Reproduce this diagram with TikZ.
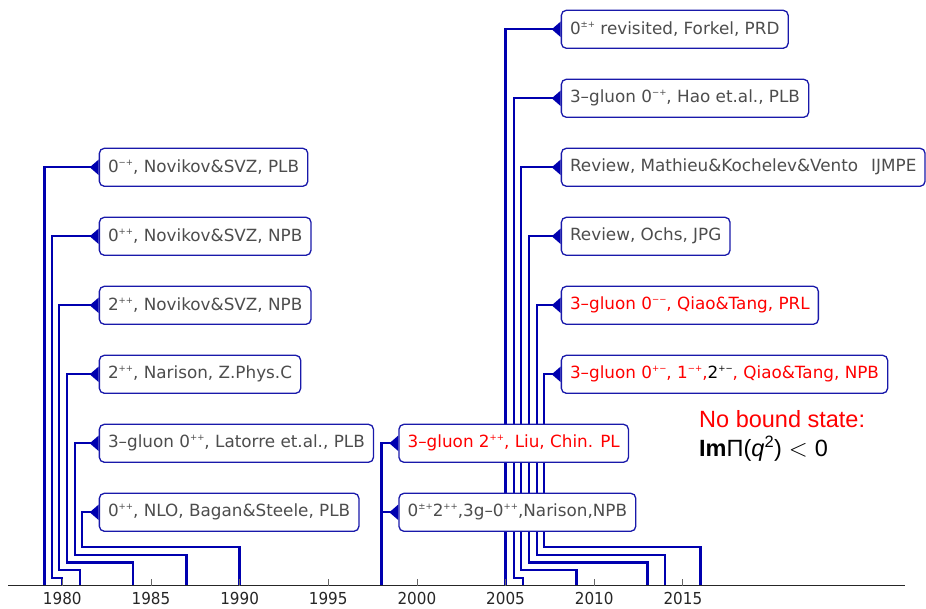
\documentclass[tikz,border=0pt]{standalone}
\usepackage{fontspec}
\setmainfont{DejaVu Sans}
\newfontfamily\arialfont{Liberation Sans}
\newfontfamily\tickfont[FakeStretch=0.92]{DejaVu Sans}
\usetikzlibrary{arrows.meta,backgrounds}
\definecolor{linkblue}{RGB}{0,0,175}
\definecolor{boxblue}{RGB}{25,25,170}
\definecolor{labelgray}{RGB}{77,77,77}
\newcommand\pc[1]{\raisebox{0.42em}{\fontsize{8.6}{9}\selectfont #1}}

\begin{document}
\begin{tikzpicture}[
    x=1pt, y=1pt,
    paper/.style={draw=boxblue, line width=1.3pt, fill=white, rounded corners=5pt,
        anchor=west, minimum height=38pt, inner xsep=8.7pt, inner ysep=0pt,
        text=labelgray, font=\fontsize{16.8}{20}\selectfont},
    hot/.style={paper, text=red},
    link/.style={draw=linkblue, line width=2.3pt,
        -{Triangle[reversed, length=9pt, width=15pt]}},
    axis/.style={draw=black!85, line width=0.8pt},
    tick/.style={draw=black!60, line width=0.8pt},
    yearlabel/.style={font=\tickfont\fontsize{16.5}{18}\selectfont, text=black!85,
        anchor=north, inner sep=0pt},
    nobound/.style={anchor=west, align=left, inner sep=0pt,
        font=\arialfont\fontsize{23.5}{28.3}\selectfont},
  ]
  \useasboundingbox (0,0) rectangle (926,608);

  % time axis
  \coordinate (axl) at (8,22.3);
  \coordinate (axr) at (905,22.3);
  \draw[axis] (axl) -- (axr);
  \foreach \yy in {1979,...,2016}
    \coordinate (y\yy) at ({62.3+(\yy-1980)*17.73},22.3);
  \foreach \yy in {1980,1985,...,2015} {
    \draw[tick] (y\yy) -- ++(0,7);
    \node[yearlabel] (t\yy) at ([yshift=-6.5pt]y\yy) {\yy};
  }

  % papers, first wave
  \node[paper] (nov1) at (98.7,440.7) {0\pc{−+}, Novikov\&SVZ, PLB};
  \node[paper] (nov2) at (98.7,371.7) {0\pc{++}, Novikov\&SVZ, NPB};
  \node[paper] (nov3) at (98.7,302.7) {2\pc{++}, Novikov\&SVZ, NPB};
  \node[paper] (nar84) at (98.7,233.7) {2\pc{++}, Narison, Z.Phys.C};
  \node[paper] (lat87) at (98.7,164.7) {3–gluon 0\pc{++}, Latorre et.al., PLB};
  \node[paper] (bag90) at (98.7,95.7) {0\pc{++}, NLO, Bagan\&Steele, PLB};

  % 1998
  \node[hot] (liu98) at (398.3,164.7) {3–gluon 2\pc{++}, Liu, Chin. PL};
  \node[paper] (nar98) at (398.3,95.7) {0\pc{±+}2\pc{++},3g–0\pc{++},Narison,NPB};

  % second wave
  \node[paper] (for05) at (560.7,578.7) {0\pc{±+} revisited, Forkel, PRD};
  \node[paper] (hao06) at (560.7,509.7) {3–gluon 0\pc{−+}, Hao et.al., PLB};
  \node[paper] (mat09) at (560.7,440.7) {Review, Mathieu\&Kochelev\&Vento\hspace{13pt}IJMPE};
  \node[paper] (och13) at (560.7,371.7) {Review, Ochs, JPG};
  \node[hot] (qia14) at (560.7,302.7) {3–gluon 0\pc{−−}, Qiao\&Tang, PRL};
  \node[hot] (qia16) at (560.7,233.7) {3–gluon 0\pc{+−}, 1\pc{−+},{\color{black}2\pc{+−}}, Qiao\&Tang, NPB};

  \node[nobound] (nobound) at (699,172)
    {{\color{red}No bound state:}\\\textbf{Im}Π(\textit{q}\textsuperscript{2})\hspace{7pt}$<$\hspace{7pt}0};

  \begin{scope}[on background layer]
    \draw[link] (y1979) |- (nov1.west);
    \draw[link] (y1980) -- ++(0,7.7) -| ([xshift=-47pt]nov2.west) -- (nov2.west);
    \draw[link] (y1981) -- ++(0,15.4) -| ([xshift=-39.4pt]nov3.west) -- (nov3.west);
    \draw[link] (y1984) -- ++(0,23.1) -| ([xshift=-31.7pt]nar84.west) -- (nar84.west);
    \draw[link] (y1987) -- ++(0,30.8) -| ([xshift=-24pt]lat87.west) -- (lat87.west);
    \draw[link] (y1990) -- ++(0,38.5) -| ([xshift=-16.4pt]bag90.west) -- (bag90.west);

    \draw[link] (y1998) |- (liu98.west);
    \draw[link] (y1998) |- (nar98.west);

    \draw[link] (y2005) |- (for05.west);
    \draw[link] (y2006) -- ++(0,7.7) -| ([xshift=-47pt]hao06.west) -- (hao06.west);
    \draw[link] (y2009) -- ++(0,15.4) -| ([xshift=-39.4pt]mat09.west) -- (mat09.west);
    \draw[link] (y2013) -- ++(0,23.1) -| ([xshift=-31.7pt]och13.west) -- (och13.west);
    \draw[link] (y2014) -- ++(0,30.8) -| ([xshift=-24pt]qia14.west) -- (qia14.west);
    \draw[link] (y2016) -- ++(0,38.5) -| ([xshift=-16.4pt]qia16.west) -- (qia16.west);
  \end{scope}
\end{tikzpicture}
\end{document}
